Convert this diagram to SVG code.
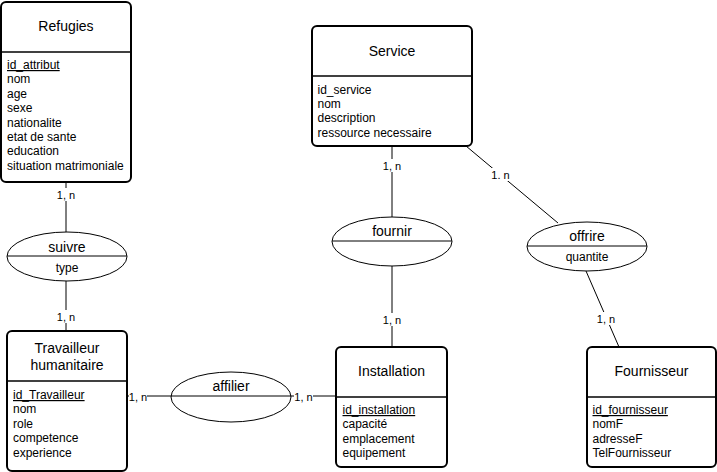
<svg xmlns="http://www.w3.org/2000/svg" width="717" height="472" viewBox="0 0 717 472">
  <style>
    text { font-family: "Liberation Sans", Arial, sans-serif; fill: #000; }
    .entity { fill: #fff; stroke: #000; stroke-width: 2; }
    .divider { stroke: #000; stroke-width: 1.5; fill: none; }
    .title { font-size: 14px; text-anchor: middle; }
    .attr { font-size: 12px; }
    .pk { text-decoration: underline; }
    .rel { fill: #fff; stroke: #000; stroke-width: 1; }
    .relline { stroke: #000; stroke-width: 1; }
    .rname { font-size: 14px; text-anchor: middle; }
    .rattr { font-size: 12px; text-anchor: middle; }
    .edge { stroke: #000; stroke-width: 1; fill: none; }
    .card { font-size: 11px; text-anchor: middle; }
    .cardbg { fill: #fff; }
  </style>

  <!-- connectors -->
  <g id="connectors">
    <line class="edge" x1="66" y1="182" x2="66" y2="232"/>
    <line class="edge" x1="66" y1="281" x2="66" y2="331"/>
    <line class="edge" x1="127" y1="396" x2="336" y2="396"/>
    <line class="edge" x1="392" y1="146" x2="392" y2="217"/>
    <line class="edge" x1="392" y1="266" x2="392" y2="346"/>
    <line class="edge" x1="466" y1="146" x2="558" y2="223"/>
    <line class="edge" x1="586" y1="271" x2="619" y2="347"/>

    <!-- cardinalities -->
    <rect class="cardbg" x="56" y="188" width="20" height="13"/>
    <text class="card" x="66" y="198.5">1, n</text>
    <rect class="cardbg" x="56" y="310" width="20" height="13"/>
    <text class="card" x="66" y="320.5">1, n</text>
    <rect class="cardbg" x="129" y="390" width="18" height="13"/>
    <text class="card" x="138" y="401">1, n</text>
    <rect class="cardbg" x="294" y="390" width="19" height="13"/>
    <text class="card" x="303.5" y="401">1, n</text>
    <rect class="cardbg" x="382" y="159" width="20" height="13"/>
    <text class="card" x="392" y="169.5">1, n</text>
    <rect class="cardbg" x="382" y="313" width="20" height="13"/>
    <text class="card" x="392" y="323.5">1, n</text>
    <rect class="cardbg" x="490" y="168" width="21" height="13"/>
    <text class="card" x="500.5" y="178.5">1. n</text>
    <rect class="cardbg" x="596" y="312" width="20" height="13"/>
    <text class="card" x="606" y="322.5">1, n</text>
  </g>

  <!-- entities -->
  <g id="refugies">
    <rect class="entity" x="1" y="2" width="130" height="180" rx="5"/>
    <line class="divider" x1="1" y1="52" x2="131" y2="52"/>
    <text class="title" x="66" y="31">Refugies</text>
    <text class="attr pk" x="7" y="69">id_attribut</text>
    <text class="attr" x="7" y="83.4">nom</text>
    <text class="attr" x="7" y="97.8">age</text>
    <text class="attr" x="7" y="112.2">sexe</text>
    <text class="attr" x="7" y="126.6">nationalite</text>
    <text class="attr" x="7" y="141">etat de sante</text>
    <text class="attr" x="7" y="155.4">education</text>
    <text class="attr" x="7" y="169.8">situation matrimoniale</text>
  </g>

  <g id="travailleur">
    <rect class="entity" x="7" y="331" width="120" height="140" rx="5"/>
    <line class="divider" x1="7" y1="381" x2="127" y2="381"/>
    <text class="title" x="67" y="353">Travailleur</text>
    <text class="title" x="67" y="370">humanitaire</text>
    <text class="attr pk" x="13" y="399">id_Travailleur</text>
    <text class="attr" x="13" y="413.4">nom</text>
    <text class="attr" x="13" y="427.8">role</text>
    <text class="attr" x="13" y="442.2">competence</text>
    <text class="attr" x="13" y="456.6">experience</text>
  </g>

  <g id="service">
    <rect class="entity" x="312" y="26" width="160" height="120" rx="5"/>
    <line class="divider" x1="312" y1="76" x2="472" y2="76"/>
    <text class="title" x="392" y="56">Service</text>
    <text class="attr" x="317.5" y="93.5">id_service</text>
    <text class="attr" x="317.5" y="107.9">nom</text>
    <text class="attr" x="317.5" y="122.3">description</text>
    <text class="attr" x="317.5" y="136.7">ressource necessaire</text>
  </g>

  <g id="installation">
    <rect class="entity" x="336" y="347" width="111" height="120" rx="5"/>
    <line class="divider" x1="336" y1="397" x2="447" y2="397"/>
    <text class="title" x="391.5" y="376">Installation</text>
    <text class="attr pk" x="342.5" y="414">id_installation</text>
    <text class="attr" x="342.5" y="428.4">capacité</text>
    <text class="attr" x="342.5" y="442.8">emplacement</text>
    <text class="attr" x="342.5" y="457.2">equipement</text>
  </g>

  <g id="fournisseur">
    <rect class="entity" x="587" y="347" width="129" height="120" rx="5"/>
    <line class="divider" x1="587" y1="397" x2="716" y2="397"/>
    <text class="title" x="651.5" y="376">Fournisseur</text>
    <text class="attr pk" x="592.5" y="414">id_fournisseur</text>
    <text class="attr" x="592.5" y="428.4">nomF</text>
    <text class="attr" x="592.5" y="442.8">adresseF</text>
    <text class="attr" x="592.5" y="457.2">TelFournisseur</text>
  </g>

  <!-- relationships -->
  <g id="suivre">
    <ellipse class="rel" cx="67" cy="256.5" rx="60" ry="24.5"/>
    <line class="relline" x1="7" y1="256" x2="127" y2="256"/>
    <text class="rname" x="67" y="251.5">suivre</text>
    <text class="rattr" x="67" y="272">type</text>
  </g>

  <g id="affilier">
    <ellipse class="rel" cx="231" cy="397" rx="60" ry="25"/>
    <line class="relline" x1="171" y1="396" x2="291" y2="396"/>
    <text class="rname" x="231" y="390.5">affilier</text>
  </g>

  <g id="fournir">
    <ellipse class="rel" cx="392" cy="241.5" rx="60" ry="24.5"/>
    <line class="relline" x1="332" y1="241" x2="452" y2="241"/>
    <text class="rname" x="392" y="236">fournir</text>
  </g>

  <g id="offrire">
    <ellipse class="rel" cx="587" cy="246.5" rx="60" ry="24.5"/>
    <line class="relline" x1="527" y1="246" x2="647" y2="246"/>
    <text class="rname" x="587" y="241">offrire</text>
    <text class="rattr" x="587" y="260.5">quantite</text>
  </g>
</svg>
